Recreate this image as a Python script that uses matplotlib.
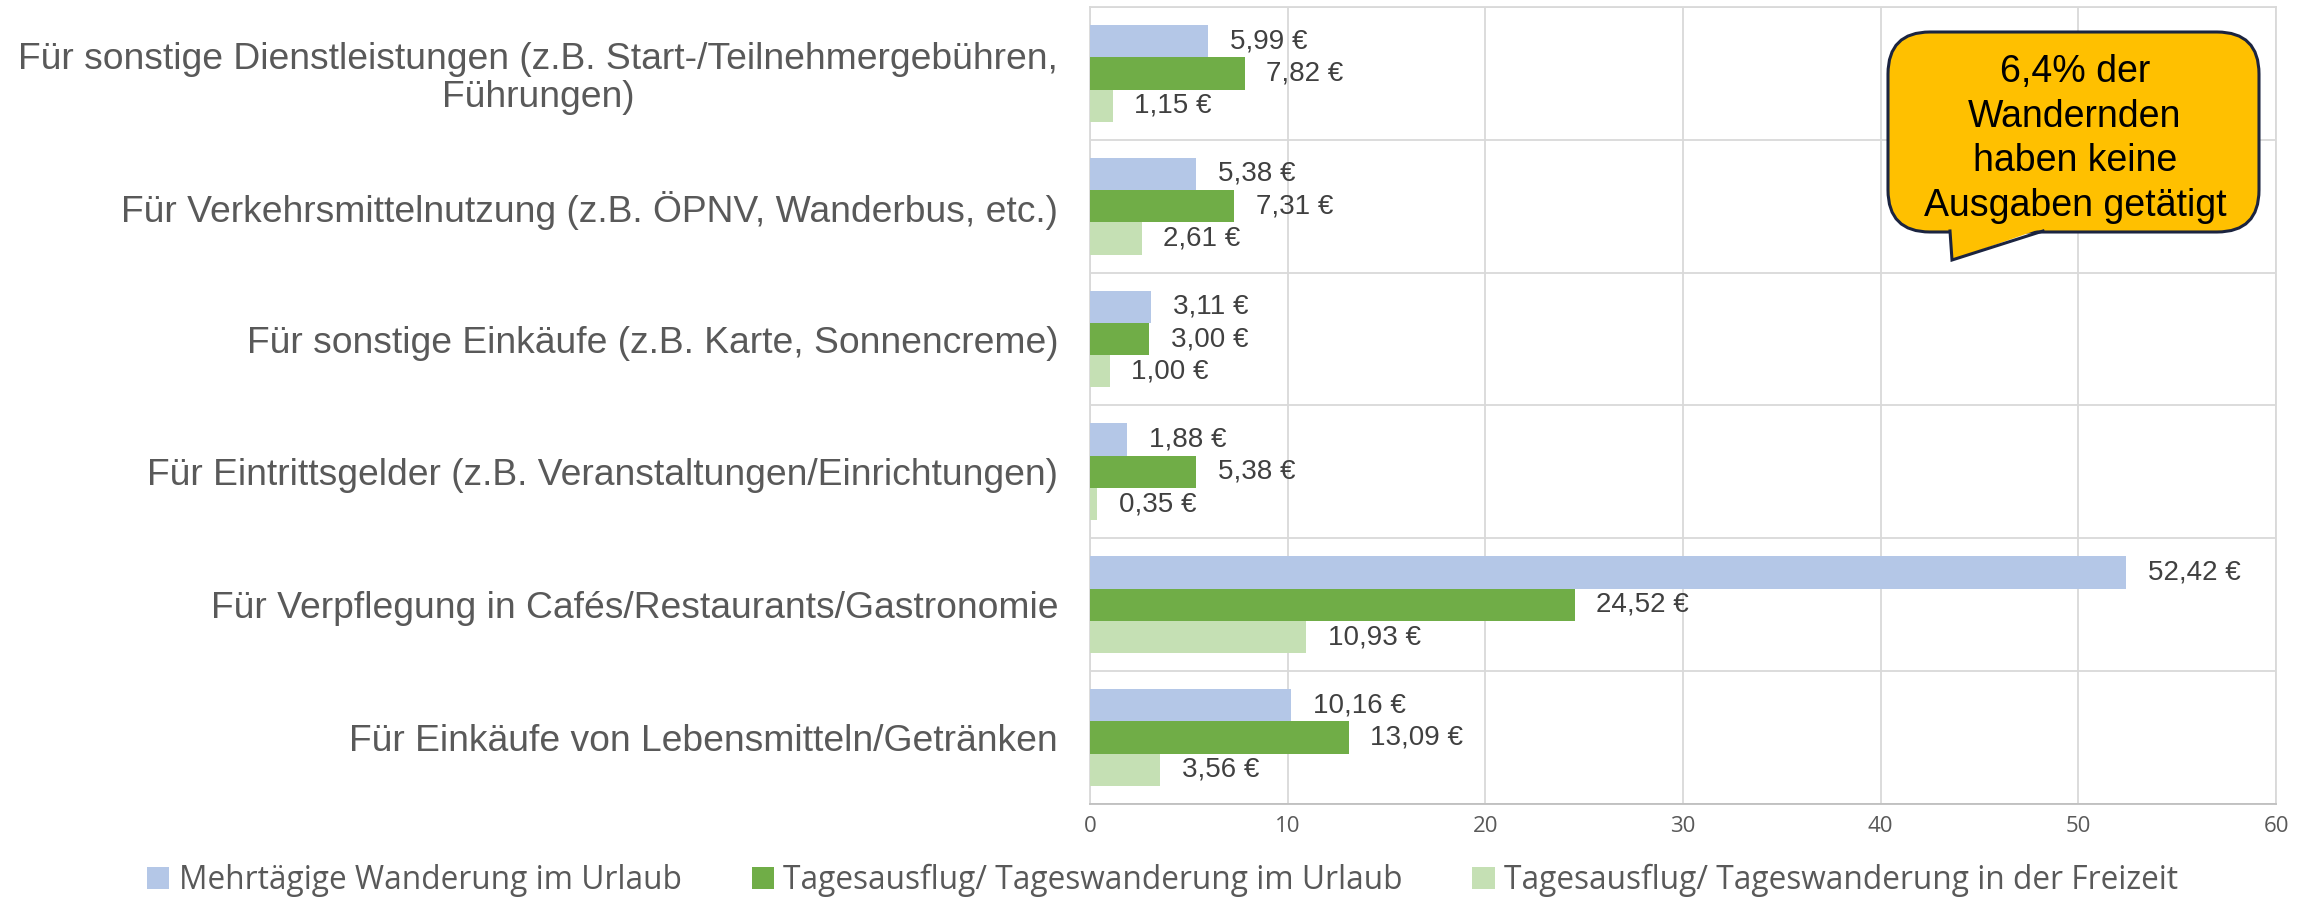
import matplotlib

matplotlib.use("Agg")
import matplotlib.pyplot as plt  # noqa: E402
import numpy as np  # noqa: E402
from matplotlib.patches import FancyBboxPatch, Polygon  # noqa: E402

# Ausgabenkategorien von oben nach unten
kategorien = [
    "Für sonstige Dienstleistungen (z.B. Start-/Teilnehmergebühren,\nFührungen)",
    "Für Verkehrsmittelnutzung (z.B. ÖPNV, Wanderbus, etc.)",
    "Für sonstige Einkäufe (z.B. Karte, Sonnencreme)",
    "Für Eintrittsgelder (z.B. Veranstaltungen/Einrichtungen)",
    "Für Verpflegung in Cafés/Restaurants/Gastronomie",
    "Für Einkäufe von Lebensmitteln/Getränken",
]
serien = [
    "Mehrtägige Wanderung im Urlaub",
    "Tagesausflug/ Tageswanderung im Urlaub",
    "Tagesausflug/ Tageswanderung in der Freizeit",
]
mehrtaegig = [5.99, 5.38, 3.11, 1.88, 52.42, 10.16]
tag_urlaub = [7.82, 7.31, 3.00, 5.38, 24.52, 13.09]
tag_freizeit = [1.15, 2.61, 1.00, 0.35, 10.93, 3.56]
farben = ["#B4C7E7", "#70AD47", "#C5E0B4"]
x_ticks = [0, 10, 20, 30, 40, 50, 60]
hinweis = "6,4% der\nWandernden\nhaben keine\nAusgaben getätigt"

GRID = "#D9D9D9"
TXT = "#595959"

fig = plt.figure(figsize=(23, 9.01), dpi=100)
ax = fig.add_axes([0.4739, 0.1077, 0.5157, 0.8845])

n = len(kategorien)
pos = np.arange(n)[::-1]          # erste Kategorie oben
h = 0.243
for i, (werte, farbe, name) in enumerate(zip([mehrtaegig, tag_urlaub, tag_freizeit],
                                             farben, serien)):
    y = pos + h * (1 - i)
    bars = ax.barh(y, werte, height=h, color=farbe, label=name, zorder=3)
    for b, v in zip(bars, werte):
        ax.text(v + 1.1, b.get_y() + h / 2,
                f"{v:.2f} €".replace(".", ","),
                ha="left", va="center", fontsize=20, color="#404040",
                family="Liberation Sans")

ax.set_xlim(0, 60)
ax.set_ylim(-0.5, n - 0.5)
ax.set_xticks(x_ticks)
ax.set_xticklabels([str(t) for t in x_ticks], fontsize=16, color=TXT,
                   family="Open Sans")
ax.set_yticks(pos)
ax.set_yticklabels(kategorien, fontsize=26.8, color=TXT, family="Liberation Sans",
                   linespacing=1.1)
for lbl in ax.get_yticklabels():
    lbl.set_multialignment("center")
ax.set_yticks(np.arange(n + 1) - 0.5, minor=True)
ax.tick_params(axis="both", which="both", length=0)
ax.tick_params(axis="x", pad=9)
ax.tick_params(axis="y", pad=23)

ax.grid(axis="x", color=GRID, lw=1.3, zorder=0)
ax.grid(axis="y", which="minor", color=GRID, lw=1.3, zorder=0)
for s in ax.spines.values():
    s.set_color(GRID)
    s.set_linewidth(1.3)
ax.spines["bottom"].set_color("#BFBFBF")

leg = fig.legend(loc="center", bbox_to_anchor=(0.5055, 0.023), ncol=3,
                 frameon=False, handlelength=0.7, handleheight=0.7,
                 handletextpad=0.3, columnspacing=2.2,
                 prop={"family": "Open Sans", "size": 22.8})
for t in leg.get_texts():
    t.set_color(TXT)

# Sprechblase oben rechts (Pixelkoordinaten)
ov = fig.add_axes([0, 0, 1, 1], facecolor="none")
ov.set_xlim(0, 2300)
ov.set_ylim(901, 0)
ov.axis("off")
edge = "#1B2440"
box = FancyBboxPatch((1888, 32), 371, 200, boxstyle="round,pad=0,rounding_size=42",
                     facecolor="#FFC000", edgecolor=edge, lw=2.2, zorder=5)
ov.add_patch(box)
tail = [(1950, 228), (1952, 260), (2043, 228)]
ov.add_patch(Polygon(tail, closed=True, facecolor="#FFC000", edgecolor="none", zorder=6))
ov.plot([1950, 1952, 2043], [231, 260, 231], color=edge, lw=2.2, zorder=7,
        solid_joinstyle="miter")
ov.text(2075, 139, hinweis, ha="center", va="center", fontsize=27,
        family="Liberation Sans", color="black", linespacing=1.3, zorder=8)

fig.savefig("out.png", dpi=100)
